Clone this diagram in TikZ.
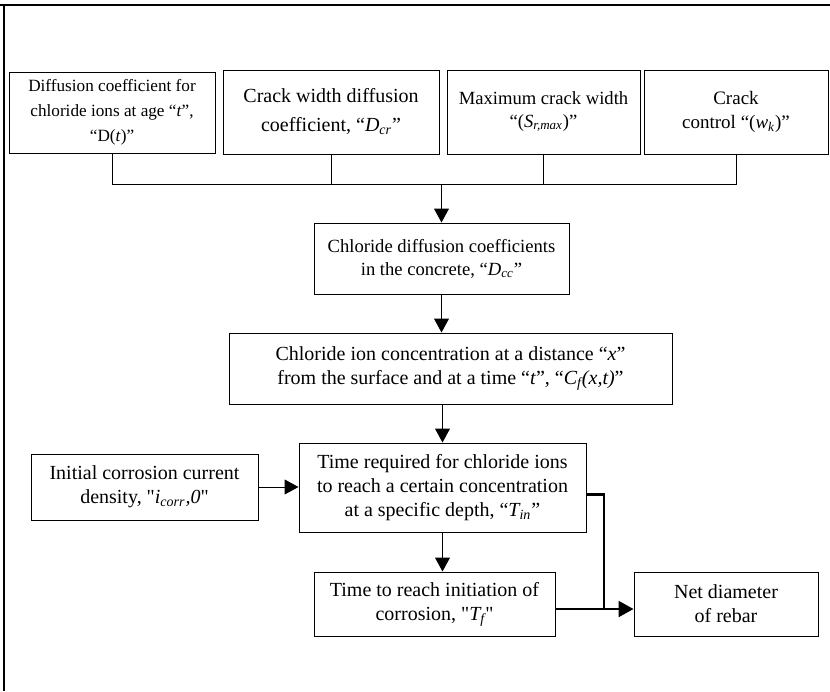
\documentclass[tikz,border=0pt]{standalone}
\usepackage{fontspec}
\setmainfont{Liberation Serif}
\newfontfamily\plainfont{Liberation Serif} % no TeX ligatures, so " stays straight
\newcommand{\dq}{{\plainfont"}}
\usetikzlibrary{positioning, arrows.meta}
\tikzset{
    box/.style={draw, line width=0.5pt, align=center, inner sep=0pt, font=\fontsize{10}{12}\selectfont}, % every block of the chart
    smallbox/.style={box, font=\fontsize{9.3}{11.5}\selectfont}, % blocks with the smaller text
    link/.style={line width=0.5pt}, % plain joining lines
    flow/.style={line width=0.5pt, -{Triangle[length=7pt, width=7.5pt]}},
    heavy/.style={line width=1.1pt},
    }

\begin{document}
\begin{tikzpicture}[x=0.5pt, y=-0.5pt]
\useasboundingbox (0,0) rectangle (830,691);
\draw[line width=1.3pt] (0,5) -- (830,5);
\draw[line width=1.3pt] (4,5) -- (4,691);

\node[box, font=\fontsize{8.6}{12.5}\selectfont, minimum width=103pt, minimum height=40.5pt] (dt) at (112,112.5) {Diffusion coefficient for\\ chloride ions at age ``\textit{t}'',\\ ``D(\textit{t})''};
\node[box, font=\fontsize{10}{14.5}\selectfont, minimum width=108pt, minimum height=42pt] (dcr) at (331,112) {Crack width diffusion\\ coefficient, ``\textit{D\textsubscript{cr}}''};
\node[smallbox, minimum width=96.5pt, minimum height=42pt] (srmax) at (543.5,112) {Maximum crack width\\ ``(\textit{S\textsubscript{r,max}})''};
\node[smallbox, font=\fontsize{9.5}{12}\selectfont, minimum width=92pt, minimum height=42pt] (wk) at (736,112) {Crack\\ control ``(\textit{w\textsubscript{k}})''};
\node[smallbox, minimum width=127.5pt, minimum height=35.5pt] (dcc) at (441.5,258.5) {Chloride diffusion coefficients\\ in the concrete, ``\textit{D\textsubscript{cc}}''};
\node[box, minimum width=221.5pt, minimum height=35.5pt] (cf) at (450.5,368.5) {Chloride ion concentration at a distance ``\textit{x}''\\ from the surface and at a time ``\textit{t}'', ``\textit{C\textsubscript{f}(x,t)}''};
\node[box, minimum width=143.5pt, minimum height=44.5pt] (tin) at (442.5,487.5) {Time required for chloride ions\\ to reach a certain concentration\\ at a specific depth, ``\textit{T\textsubscript{in}}''};
\node[box, minimum width=113.5pt, minimum height=33pt] (icorr) at (144.5,487) {Initial corrosion current\\ density, \dq\textit{i\textsubscript{corr},0}\dq};
\node[box, minimum width=120.5pt, minimum height=32pt] (tf) at (434.5,604) {Time to reach initiation of\\ corrosion, \dq\textit{T\textsubscript{f}}\dq};
\node[box, minimum width=92pt, minimum height=32pt] (net) at (726,604) {Net diameter\\ of rebar};

\coordinate (bar) at (441.5,184);
\coordinate (drop) at (604,609);

\draw[link] (dt.south) -- (dt.south |- bar) -- (wk.south |- bar) -- (wk.south);
\draw[link] (dcr.south) -- (dcr.south |- bar);
\draw[link] (srmax.south) -- (srmax.south |- bar);
\draw[flow] (bar) -- (dcc.north);
\draw[flow] (dcc.south) -- (dcc.south |- cf.north);
\draw[flow] (tin.north |- cf.south) -- (tin.north);
\draw[flow] (icorr.east) -- (icorr.east -| tin.west);
\draw[flow] (tin.south) -- (tin.south |- tf.north);
\draw[heavy] ([yshift=-3.5pt]tin.east) -| (drop);
\draw[heavy, -{Triangle[length=7.5pt, width=8pt]}] ([yshift=-2.5pt]tf.east) -- ([yshift=-2.5pt]net.west);

\end{tikzpicture}
\end{document}
